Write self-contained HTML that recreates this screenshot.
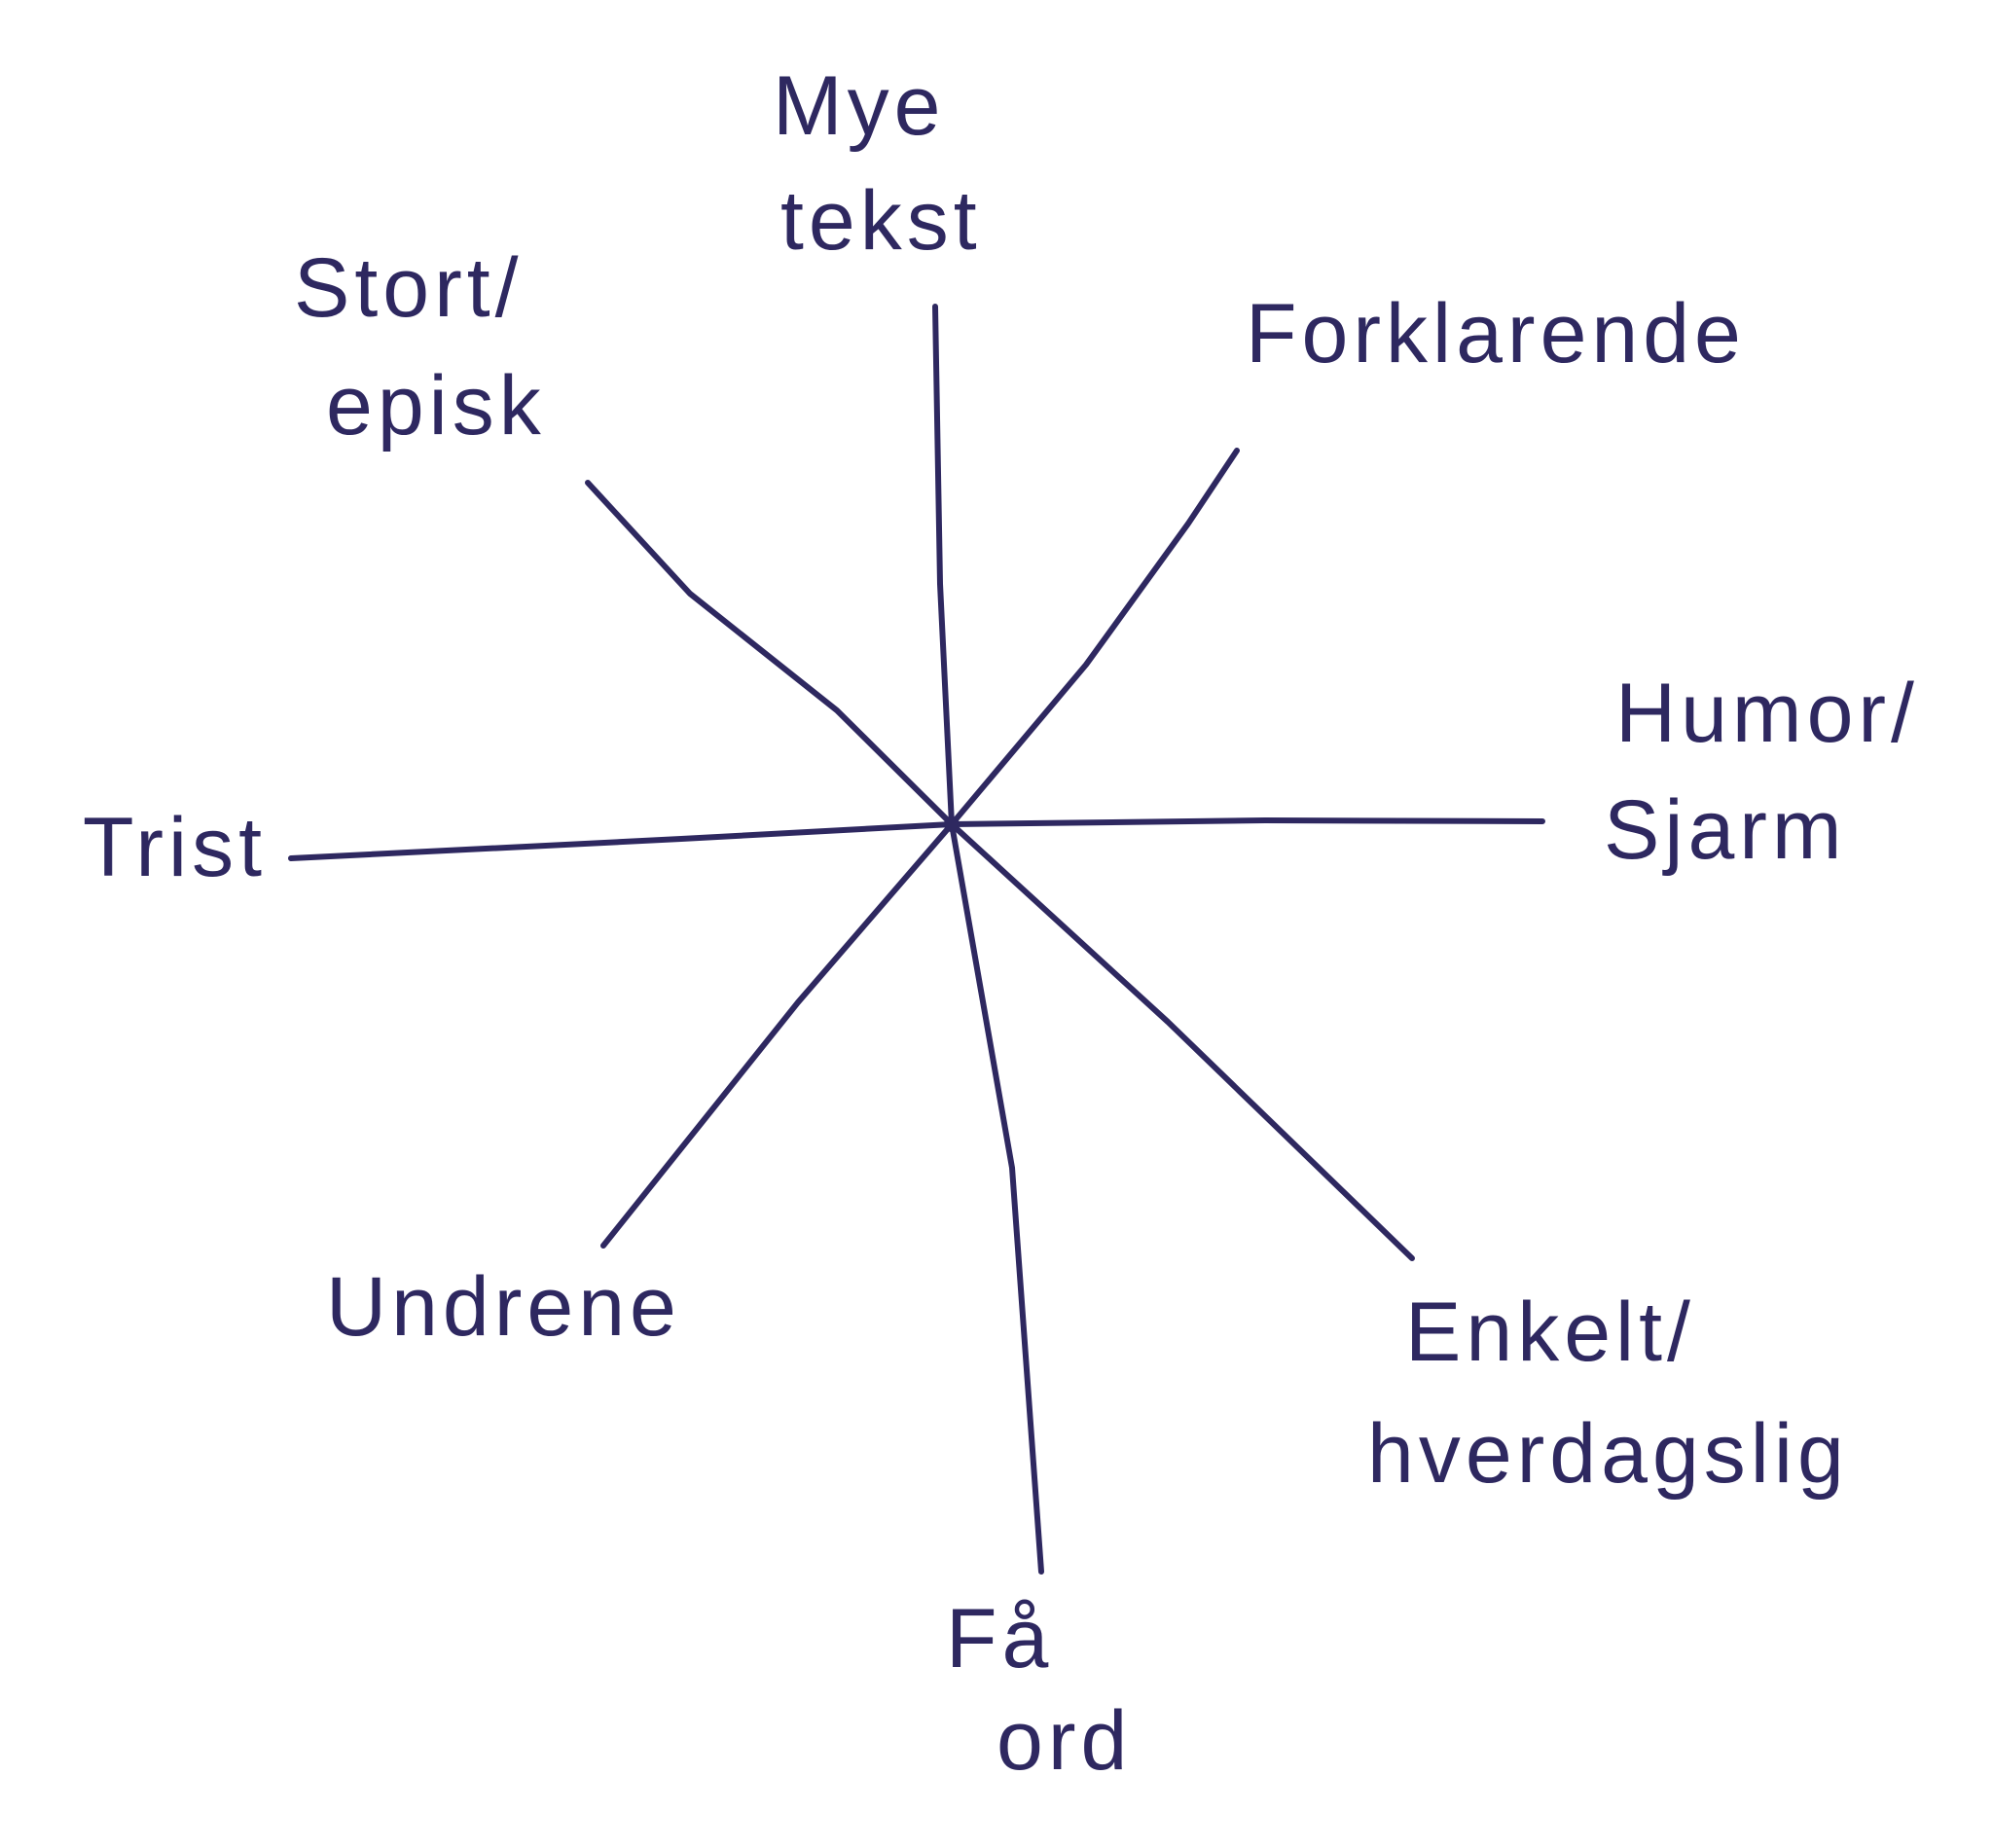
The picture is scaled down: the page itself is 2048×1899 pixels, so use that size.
<!DOCTYPE html>
<html><head><meta charset="utf-8"><style>
html,body{margin:0;padding:0;background:#fff;}
body{width:2048px;height:1899px;position:relative;overflow:hidden;}
svg{position:absolute;left:0;top:0;}
.t{font-family:"Liberation Sans",sans-serif;font-size:86px;fill:#2e2860;letter-spacing:5px;}
</style></head><body>
<svg width="2048" height="1899" viewBox="0 0 2048 1899">
<g stroke="#2e2860" stroke-width="6" fill="none" stroke-linecap="round" stroke-linejoin="round">
<polyline points="961,315 966,600 978,847"/>
<polyline points="978,847 1040,1200 1070,1615"/>
<polyline points="299,882 700,862 978,847"/>
<polyline points="978,847 1300,843 1585,844"/>
<polyline points="604,496 709,610 860,730 978,847"/>
<polyline points="1271,463 1221,538 1116,683 978,847"/>
<polyline points="978,847 820,1030 620,1280"/>
<polyline points="978,847 1200,1050 1451,1293"/>
</g>
<circle cx="978" cy="847" r="8" fill="#2e2860"/>
<text class="t" x="794" y="138">Mye</text>
<text class="t" x="802" y="256">tekst</text>
<text class="t" x="302" y="325">Stort/</text>
<text class="t" x="335" y="446">episk</text>
<text class="t" x="1280" y="372">Forklarende</text>
<text class="t" x="1660" y="762">Humor/</text>
<text class="t" x="1648" y="882">Sjarm</text>
<text class="t" x="85" y="900">Trist</text>
<text class="t" x="335" y="1372">Undrene</text>
<text class="t" x="1444" y="1398">Enkelt/</text>
<text class="t" x="1405" y="1523">hverdagslig</text>
<text class="t" x="972" y="1713">Få</text>
<text class="t" x="1024" y="1818">ord</text>
</svg>
</body></html>
